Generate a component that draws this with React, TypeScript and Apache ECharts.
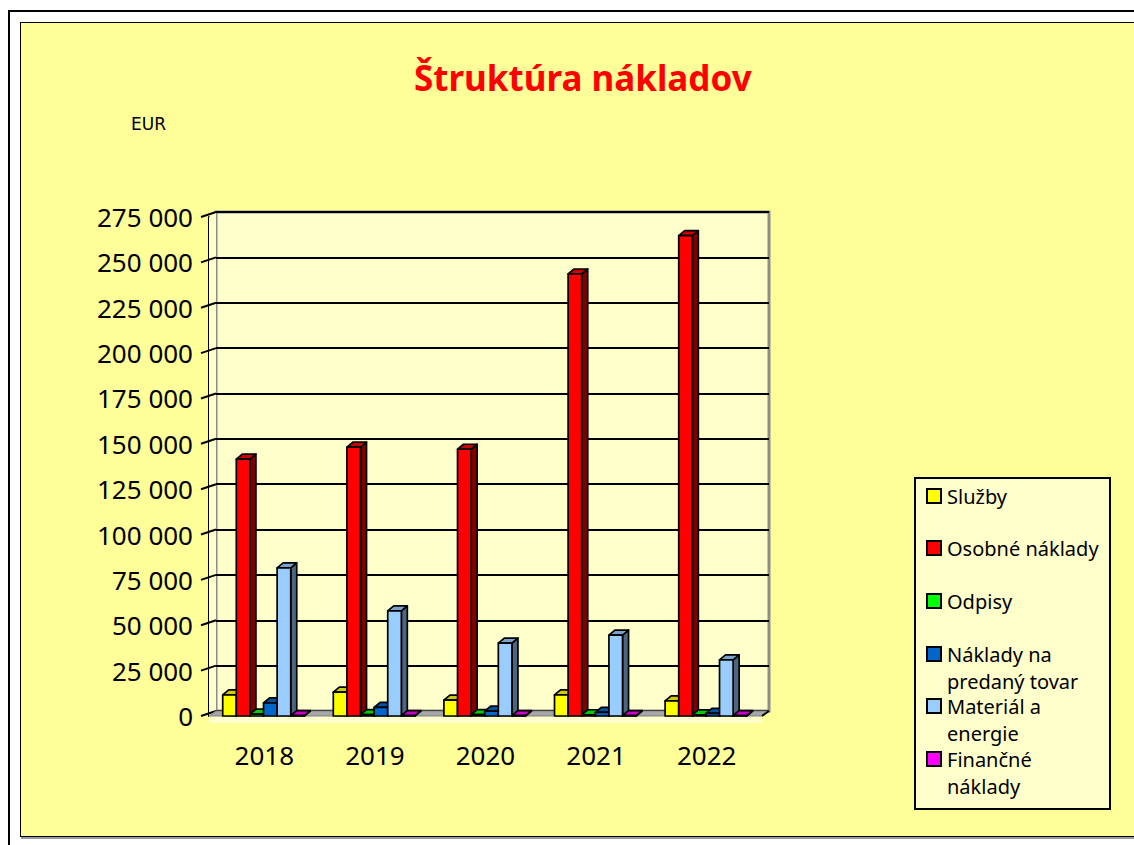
import React, { useEffect, useRef } from "react";
import * as echarts from "echarts";

const years = ["2018", "2019", "2020", "2021", "2022"];
const seriesNames = [
  "Služby",
  "Osobné náklady",
  "Odpisy",
  "Náklady na predaný tovar",
  "Materiál a energie",
  "Finančné náklady",
];
const legendLabels = [
  "Služby",
  "Osobné náklady",
  "Odpisy",
  "Náklady na\npredaný tovar",
  "Materiál a\nenergie",
  "Finančné\nnáklady",
];
const sluzby = [11600, 13200, 8800, 11600, 8300];
const osobne = [141600, 148200, 147000, 243600, 264700];
const odpisy = [1000, 800, 800, 700, 600];
const tovar = [7200, 4800, 2700, 2000, 1500];
const material = [81600, 57900, 40200, 44600, 30900];
const financne = [200, 200, 200, 200, 200];
const yTicks = [0, 25000, 50000, 75000, 100000, 125000, 150000, 175000, 200000, 225000, 250000, 275000];

const allValues = [sluzby, osobne, odpisy, tovar, material, financne];
const colors = ["#FFFF00", "#FF0000", "#00FF00", "#0066CC", "#99CCFF", "#FF00FF"];

function shade(hex: string, f: number): string {
  const n = parseInt(hex.slice(1), 16);
  const r = Math.round(((n >> 16) & 255) * f);
  const g = Math.round(((n >> 8) & 255) * f);
  const b = Math.round((n & 255) * f);
  return `rgb(${r},${g},${b})`;
}

const DX = 6;
const DY = 5;
const WALL_DX = 7;
const WALL_DY = 5;

function fmt(v: number): string {
  return String(v).replace(/\B(?=(\d{3})+(?!\d))/g, " ");
}

export default function App() {
  const ref = useRef<HTMLDivElement>(null);
  useEffect(() => {
    if (!ref.current) return;
    const chart = echarts.init(ref.current, undefined, { renderer: "svg" });
    const font = "'Noto Sans', sans-serif";

    const barSeries = allValues.map((vals, i) => ({
      type: "custom",
      name: seriesNames[i],
      xAxisIndex: 1,
      yAxisIndex: 1,
      z: 5,
      data: vals.map((v, c) => [c, v]),
      encode: { x: 0, y: 1 },
      renderItem: (params: any, api: any) => {
        const c = api.value(0);
        const v = api.value(1);
        const base = api.coord([c, 0]);
        const top = api.coord([c, v]);
        const band = api.size([1, 0])[0];
        const slot = band * 0.123;
        const x0 = base[0] - band / 2 + band * 0.124 + i * slot;
        const x1 = x0 + slot;
        const yb = base[1];
        const yt = top[1];
        const col = colors[i];
        const stroke = { stroke: "#000", lineWidth: 1.7, lineJoin: "round" };
        return {
          type: "group",
          children: [
            {
              type: "polygon",
              shape: { points: [[x1, yt], [x1 + DX, yt - DY], [x1 + DX, yb - DY], [x1, yb]] },
              style: { fill: shade(col, 0.5), ...stroke },
            },
            {
              type: "polygon",
              shape: { points: [[x0, yt], [x0 + DX, yt - DY], [x1 + DX, yt - DY], [x1, yt]] },
              style: { fill: shade(col, 0.8), ...stroke },
            },
            {
              type: "rect",
              shape: { x: x0, y: yt, width: slot, height: yb - yt },
              style: { fill: col, ...stroke },
            },
          ],
        };
      },
    }));

    const floorSeries = {
      type: "custom",
      name: "floor",
      xAxisIndex: 1,
      yAxisIndex: 1,
      z: 2,
      silent: true,
      data: [[0, 0]],
      renderItem: (params: any, api: any) => {
        const cs = params.coordSys;
        const yb = cs.y + cs.height;
        const xl = cs.x;
        const xr = cs.x + cs.width;
        const lines = yTicks.map((t) => {
          const y = api.coord([0, t])[1];
          return {
            type: "line",
            shape: { x1: xl - 8, y1: y, x2: xl + WALL_DX, y2: y - WALL_DY },
            style: { stroke: "#000", lineWidth: 2 },
          };
        });
        return {
          type: "group",
          children: [
            {
              type: "polygon",
              shape: { points: [[xl, cs.y], [xl + WALL_DX, cs.y - WALL_DY], [xl + WALL_DX, yb - WALL_DY], [xl, yb]] },
              style: { fill: "#FFFFCC", stroke: null },
            },
            ...lines,
            {
              type: "rect",
              shape: { x: xl, y: yb, width: cs.width, height: 7 },
              style: { fill: "#FFFFCC", stroke: null },
            },
            {
              type: "polygon",
              shape: { points: [[xl, yb], [xr, yb], [xr + WALL_DX, yb - WALL_DY], [xl + WALL_DX, yb - WALL_DY]] },
              style: { fill: "#A6A6A6", stroke: "#808080", lineWidth: 1 },
            },
            {
              type: "line",
              shape: { x1: xr, y1: yb, x2: xr + WALL_DX, y2: yb - WALL_DY },
              style: { stroke: "#000", lineWidth: 2 },
            },
          ],
        };
      },
    };

    const legendChildren: any[] = [
      {
        type: "rect",
        shape: { x: 915, y: 478, width: 195, height: 331 },
        style: { fill: "#FFFFCC", stroke: "#000", lineWidth: 2 },
      },
    ];
    const iconY = [496, 548, 601, 654, 706, 759];
    legendLabels.forEach((lab, i) => {
      legendChildren.push({
        type: "rect",
        shape: { x: 927, y: iconY[i] - 7, width: 14, height: 14 },
        style: { fill: colors[i], stroke: "#000", lineWidth: 2 },
      });
      legendChildren.push({
        type: "text",
        x: 947,
        y: iconY[i] - 13.5,
        style: {
          text: lab,
          fontFamily: font,
          fontSize: 20,
          lineHeight: 27,
          fill: "#000",
          verticalAlign: "top",
          align: "left",
        },
      });
    });

    chart.setOption({
      animation: false,
      backgroundColor: "transparent",
      title: {
        text: "Štruktúra nákladov",
        left: 409,
        top: 55,
        textStyle: { color: "#FF0000", fontWeight: "bold", fontSize: 35, fontFamily: font },
      },
      grid: [
        { left: 216, top: 212, width: 553, height: 499, show: true, backgroundColor: "#FFFFCC", borderColor: "#8C8C8C", borderWidth: 3 },
        { left: 209, top: 217, width: 553, height: 499 },
      ],
      xAxis: [
        { type: "category", gridIndex: 0, data: years, show: false },
        {
          type: "category",
          gridIndex: 1,
          data: years,
          axisLine: { show: false },
          axisTick: { show: false },
          axisLabel: { fontFamily: font, fontSize: 26, color: "#000", margin: 26 },
        },
      ],
      yAxis: [
        {
          type: "value",
          gridIndex: 0,
          min: 0,
          max: 275000,
          interval: 25000,
          axisLine: { show: false },
          axisTick: { show: false },
          axisLabel: { show: false },
          splitLine: { show: true, lineStyle: { color: "#000", width: 2 } },
        },
        {
          type: "value",
          gridIndex: 1,
          min: 0,
          max: 275000,
          interval: 25000,
          axisLine: { show: true, lineStyle: { color: "#000", width: 2 } },
          axisTick: { show: false },
          splitLine: { show: false },
          axisLabel: { fontFamily: font, fontSize: 26, color: "#000", margin: 16, formatter: (v: number) => fmt(v) },
        },
      ],
      graphic: [
        {
          type: "text",
          x: 131,
          y: 124,
          style: { text: "EUR", fontFamily: "'DejaVu Sans', sans-serif", fontSize: 17, fill: "#000", verticalAlign: "middle" },
        },
        { type: "group", children: legendChildren, z: 20 },
      ],
      series: [floorSeries, ...barSeries],
    });
    return () => chart.dispose();
  }, []);

  return (
    <div style={{ position: "fixed", left: 0, top: 0, width: 1134, height: 845, background: "#fff", overflow: "hidden" }}>
      <div style={{ position: "absolute", left: 8, top: 10, width: 1300, height: 1000, borderLeft: "2px solid #000", borderTop: "2px solid #000" }} />
      <div
        style={{
          position: "absolute",
          left: 20,
          top: 22,
          width: 1200,
          height: 813,
          background: "#FFFF99",
          border: "1.5px solid #000",
          boxShadow: "1px 2px 0 #999",
        }}
      />
      <div ref={ref} style={{ position: "absolute", left: 0, top: 0, width: 1134, height: 845 }} />
    </div>
  );
}
